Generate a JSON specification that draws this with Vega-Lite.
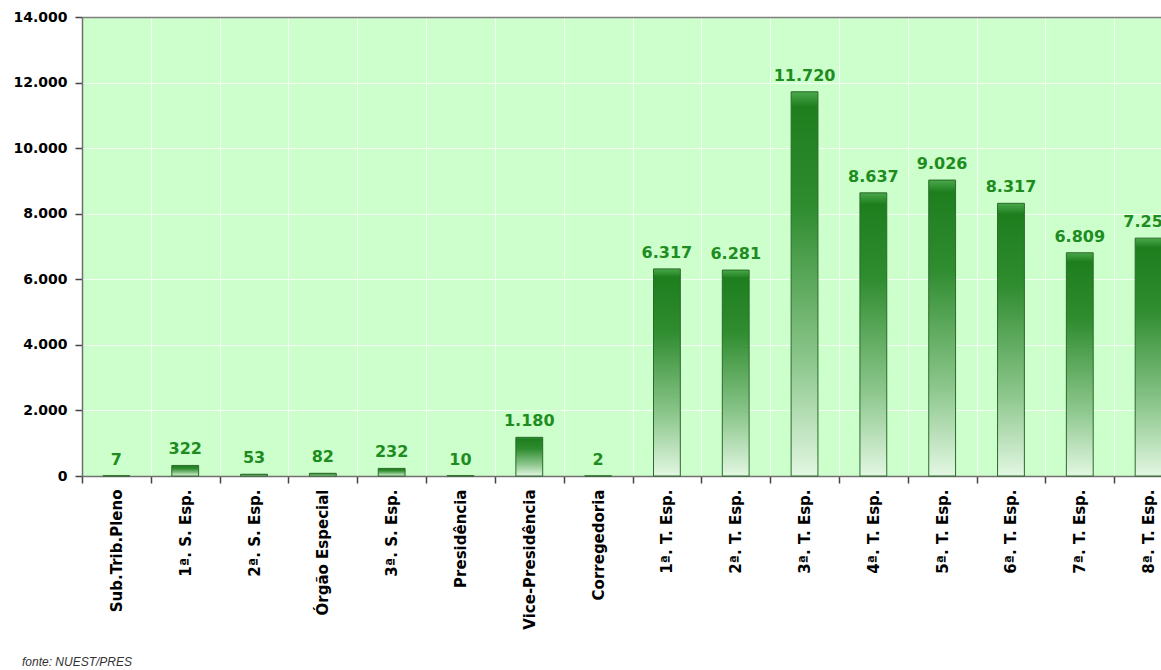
{
  "$schema": "https://vega.github.io/schema/vega-lite/v6.json",
  "autosize": "none",
  "width": 1079,
  "height": 459,
  "padding": {"left": 82, "top": 17, "right": 0, "bottom": 194},
  "background": "#ffffff",
  "config": {
    "locale": {"number": {"decimal": ",", "thousands": ".", "grouping": [3], "currency": ["R$", ""]}},
    "view": {"fill": "#ccffcc", "stroke": null}
  },
  "title": {
    "text": "fonte: NUEST/PRES",
    "orient": "bottom",
    "anchor": "start",
    "frame": "group",
    "dx": -60,
    "offset": 28,
    "font": "Liberation Sans",
    "fontSize": 12,
    "fontStyle": "italic",
    "fontWeight": "normal",
    "color": "#333333"
  },
  "data": {
    "values": [
      {"orgao": "Sub.Trib.Pleno", "valor": 7},
      {"orgao": "1ª. S. Esp.", "valor": 322},
      {"orgao": "2ª. S. Esp.", "valor": 53},
      {"orgao": "Órgão Especial", "valor": 82},
      {"orgao": "3ª. S. Esp.", "valor": 232},
      {"orgao": "Presidência", "valor": 10},
      {"orgao": "Vice-Presidência", "valor": 1180},
      {"orgao": "Corregedoria", "valor": 2},
      {"orgao": "1ª. T. Esp.", "valor": 6317},
      {"orgao": "2ª. T. Esp.", "valor": 6281},
      {"orgao": "3ª. T. Esp.", "valor": 11720},
      {"orgao": "4ª. T. Esp.", "valor": 8637},
      {"orgao": "5ª. T. Esp.", "valor": 9026},
      {"orgao": "6ª. T. Esp.", "valor": 8317},
      {"orgao": "7ª. T. Esp.", "valor": 6809},
      {"orgao": "8ª. T. Esp.", "valor": 7255}
    ]
  },
  "encoding": {
    "x": {
      "field": "orgao",
      "type": "nominal",
      "sort": null,
      "scale": {"range": [0, 1101], "paddingInner": 0, "paddingOuter": 0}
    },
    "y": {
      "field": "valor",
      "type": "quantitative",
      "scale": {"domain": [0, 14000], "nice": false}
    }
  },
  "layer": [
    {
      "mark": {
        "type": "bar",
        "width": {"band": 0.39},
        "stroke": "#2a6a2a",
        "strokeWidth": 1,
        "fill": {
          "gradient": "linear",
          "x1": 0, "y1": 0, "x2": 0, "y2": 1,
          "stops": [
            {"offset": 0, "color": "#4aa84a"},
            {"offset": 0.04, "color": "#1e7e1e"},
            {"offset": 0.3, "color": "#2f8c2f"},
            {"offset": 0.7, "color": "#8cc68c"},
            {"offset": 1, "color": "#e2f7e2"}
          ]
        }
      },
      "encoding": {
        "x": {
          "field": "orgao",
          "type": "nominal",
          "sort": null,
          "axis": {
            "title": null,
            "orient": "bottom",
            "labelAngle": -90,
            "labelFont": "DejaVu Sans",
            "labelFontWeight": "bold",
            "labelFontSize": 15,
            "labelColor": "#000000",
            "labelPadding": 6,
            "labelOverlap": false,
            "labelBound": false,
            "tickBand": "extent",
            "tickSize": 7,
            "tickColor": "#444444",
            "tickWidth": 1.5,
            "domainColor": "#707070",
            "domainWidth": 1.5,
            "grid": true,
            "gridColor": "#f4fff4",
            "gridWidth": 1
          }
        },
        "y": {
          "field": "valor",
          "type": "quantitative",
          "axis": {
            "title": null,
            "values": [0, 2000, 4000, 6000, 8000, 10000, 12000, 14000],
            "format": ",d",
            "labelFont": "DejaVu Sans",
            "labelFontWeight": "bold",
            "labelFontSize": 14,
            "labelColor": "#000000",
            "labelPadding": 8,
            "tickSize": 7,
            "tickColor": "#444444",
            "tickWidth": 1.5,
            "domainColor": "#707070",
            "domainWidth": 1.5,
            "grid": true,
            "gridColor": "#f4fff4",
            "gridWidth": 1
          }
        }
      }
    },
    {
      "mark": {
        "type": "text",
        "baseline": "alphabetic",
        "align": "center",
        "dy": -11,
        "font": "DejaVu Sans",
        "fontWeight": "bold",
        "fontSize": 16,
        "color": "#1f8c1f"
      },
      "encoding": {
        "text": {"field": "valor", "type": "quantitative", "format": ",d"},
        "x": {
          "field": "orgao",
          "type": "nominal",
          "sort": null,
          "axis": {
            "orient": "top",
            "title": null,
            "labels": false,
            "ticks": false,
            "grid": false,
            "domainColor": "#808080",
            "domainWidth": 1.5
          }
        }
      }
    }
  ],
  "resolve": {"axis": {"x": "independent"}}
}
